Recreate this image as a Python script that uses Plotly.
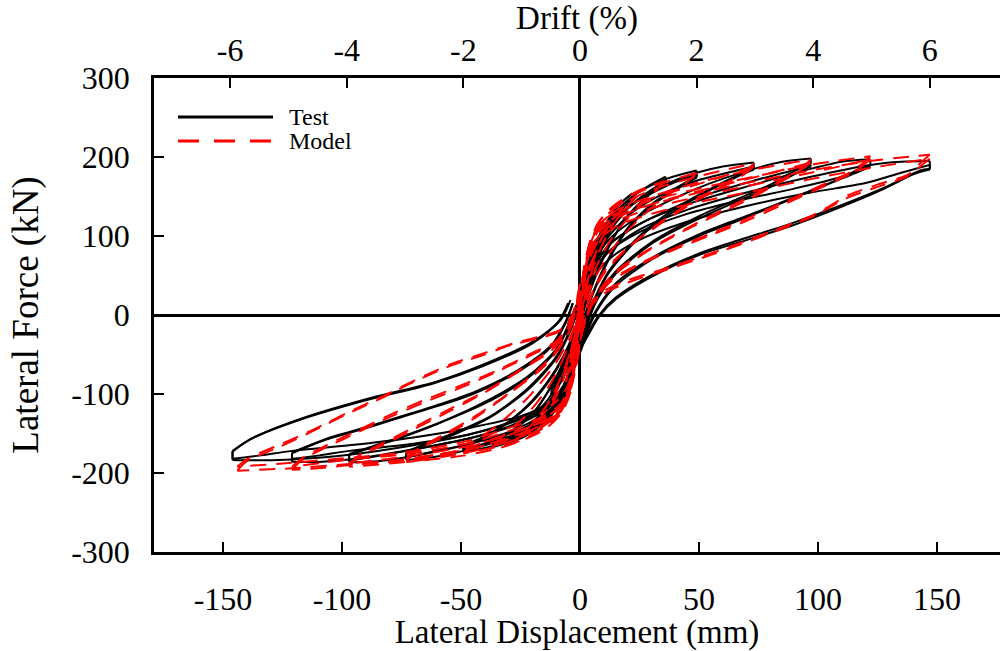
import plotly.graph_objects as go

# ---------------- data ----------------
# Each loop: [positive loading, positive unloading, negative loading, negative unloading]
# points are (lateral displacement mm, lateral force kN)

test_025 = [
    [(-1, -15), (1, 15), (3, 40), (6, 62)],
    [(6, 58), (3, 30), (0, -5), (-2, -25)],
    [(-2, -25), (-4, -45), (-6, -60)],
    [(-6, -56), (-3, -30), (0, 0), (1, 15)],
]
test_050 = [
    [(-1, -20), (1, 20), (4, 60), (8, 88), (12, 105)],
    [(12, 100), (8, 78), (4, 40), (0, -10), (-2, -30)],
    [(-2, -30), (-5, -65), (-8, -85), (-12, -100)],
    [(-12, -95), (-8, -72), (-4, -35), (0, 0), (1, 15)],
]
test_075 = [
    [(-2, -30), (0, 0), (3, 45), (7, 85), (12, 112), (18, 133)],
    [(18, 127), (13, 108), (8, 75), (3, 25), (0, -15), (-2, -35)],
    [(-2, -35), (-5, -75), (-10, -105), (-18, -128)],
    [(-18, -122), (-13, -105), (-8, -75), (-3, -30), (0, 0), (2, 30)],
]
test_100 = [
    [(0, 10), (3, 32), (7, 82), (11, 116), (17, 141), (22, 154)],
    [(22, 148), (17, 130), (10, 90), (4, 40), (0, -5), (-2, -20)],
    [(-2, -20), (-4, -62), (-8, -100), (-14, -130), (-24, -155)],
    [(-24, -148), (-18, -130), (-10, -95), (-4, -50), (0, -15), (2, 0)],
]
test_150 = [
    [(-1, 10), (2, 45), (7, 82), (11, 110), (17, 135), (22, 150), (28, 162), (36, 175)],
    [(36, 169), (30, 155), (20, 125), (10, 75), (4, 30), (0, -10)],
    [(0, -10), (-2, -60), (-6, -100), (-13, -130), (-24, -155), (-36.5, -167)],
    [(-36.5, -160), (-30, -150), (-20, -125), (-10, -80), (-4, -40), (0, -5)],
]
test_150b = [
    [(-1, 5), (2, 40), (7, 78), (12, 108), (18, 130), (26, 150), (36, 170)],
    [(36, 167), (29, 152), (19, 122), (10, 73), (4, 28), (0, -12)],
    [(0, -12), (-2, -62), (-6, -100), (-13, -127), (-24, -150), (-36.5, -163)],
    [(-36.5, -158), (-29, -147), (-19, -122), (-10, -78), (-4, -38), (0, -3)],
]
test_200 = [
    [(-2, 5), (1, 40), (5, 80), (11, 116), (22, 150), (36, 172), (49, 183)],
    [(49, 175), (40, 160), (30, 140), (20, 110), (10, 60), (5, 25), (1, -10)],
    [(1, -10), (-2, -55), (-6, -100), (-12, -125), (-24, -152), (-37, -166), (-49, -173)],
    [(-49, -167), (-42, -158), (-32, -140), (-20, -110), (-10, -70), (-4, -35), (0, 0)],
]
test_200b = [
    [(-2, 0), (1, 35), (5, 75), (11, 108), (22, 140), (36, 163), (49, 178)],
    [(49, 174), (40, 158), (30, 138), (20, 108), (10, 58), (5, 23), (1, -12)],
    [(1, -12), (-2, -57), (-6, -100), (-12, -122), (-24, -147), (-37, -160), (-49, -170)],
    [(-49, -165), (-41, -155), (-31, -137), (-20, -108), (-10, -68), (-4, -33), (0, 2)],
]
test_300 = [
    [(-2, 0), (0, 30), (4, 65), (10, 100), (22, 140), (36, 165), (49, 180), (60, 188), (73, 193)],
    [(73, 186), (67, 178), (55, 160), (40, 135), (25, 100), (12, 55), (6, 20), (2, -10)],
    [(2, -10), (-2, -50), (-6, -95), (-12, -122), (-25, -150), (-49, -172), (-60, -179), (-73, -183.5)],
    [(-73, -175), (-65, -165), (-52, -150), (-38, -130), (-22, -95), (-10, -55), (-4, -20), (-1, 5)],
]
test_300b = [
    [(-3, -5), (0, 25), (4, 60), (10, 92), (22, 130), (36, 155), (49, 170), (62, 180), (73, 188)],
    [(73, 184), (66, 175), (54, 157), (40, 132), (25, 98), (12, 53), (6, 18), (2, -12)],
    [(2, -12), (-2, -52), (-6, -95), (-12, -120), (-25, -145), (-49, -165), (-62, -173), (-73, -180)],
    [(-73, -173), (-64, -162), (-51, -147), (-37, -127), (-22, -93), (-10, -53), (-4, -18), (-1, 5)],
]
test_400 = [
    [(-3, -5), (0, 25), (5, 62), (12, 95), (25, 125), (49, 160), (73, 185), (85, 194), (97, 198)],
    [(97, 191), (90, 182), (80, 165), (67, 148), (50, 125), (30, 92), (15, 55), (7, 20), (3, -10)],
    [(3, -10), (-1, -45), (-5, -90), (-12, -118), (-25, -142), (-45, -162), (-73, -180), (-85, -185), (-97, -186.5)],
    [(-97, -177), (-88, -168), (-75, -155), (-60, -138), (-40, -112), (-22, -80), (-10, -45), (-5, -15), (-2, 10)],
]
test_400b = [
    [(-4, -10), (0, 20), (5, 55), (12, 88), (25, 115), (49, 148), (73, 170), (88, 182), (97, 190)],
    [(97, 188), (90, 178), (80, 162), (67, 145), (50, 122), (30, 90), (15, 52), (7, 18), (3, -12)],
    [(3, -12), (-1, -48), (-5, -90), (-12, -115), (-25, -137), (-45, -155), (-73, -172), (-88, -180), (-97, -184)],
    [(-97, -176), (-86, -165), (-73, -152), (-58, -135), (-40, -110), (-22, -78), (-10, -43), (-5, -13), (-2, 10)],
]
test_500 = [
    [(-4, -10), (0, 20), (5, 55), (12, 88), (25, 115), (45, 140), (73, 165), (97, 185), (110, 194), (122, 197)],
    [(122, 190), (118, 186), (109, 172), (95, 155), (81, 138), (67, 122), (50, 102), (30, 72), (15, 40), (8, 12), (4, -10)],
    [(4, -10), (0, -45), (-5, -85), (-12, -112), (-25, -135), (-45, -155), (-70, -170), (-97, -183), (-110, -186), (-121, -185.7)],
    [(-121, -175), (-107, -158), (-93, -146), (-79, -133), (-65, -120), (-45, -100), (-25, -70), (-12, -40), (-6, -10), (-3, 15)],
]
test_500b = [
    [(-5, -15), (-1, 15), (4, 48), (12, 80), (25, 105), (45, 128), (67, 145), (90, 160), (110, 175), (122, 188)],
    [(122, 188), (116, 180), (106, 168), (93, 152), (80, 136), (67, 120), (50, 100), (30, 70), (15, 37), (8, 10), (4, -14)],
    [(4, -14), (0, -48), (-6, -88), (-12, -112), (-25, -132), (-45, -150), (-70, -163), (-97, -172), (-110, -178), (-121, -182)],
    [(-121, -174), (-105, -155), (-91, -143), (-77, -130), (-63, -117), (-44, -97), (-25, -68), (-12, -38), (-6, -8), (-3, 15)],
]
test_600 = [
    [(-5, -15), (0, 15), (5, 50), (12, 80), (25, 108), (45, 133), (70, 155), (97, 175), (122, 190), (135, 194), (147, 195)],
    [(147, 185), (143, 183), (130, 164), (109, 138), (88, 115), (67, 95), (52, 80), (31, 52), (15, 22), (8, 0), (3, -25)],
    [(3, -25), (0, -45), (-5, -80), (-12, -108), (-25, -130), (-45, -150), (-70, -165), (-97, -177), (-121, -183), (-133, -184), (-146, -183.5)],
    [(-146, -173), (-139, -158), (-118, -133), (-90, -108), (-62, -87), (-41, -65), (-20, -36), (-8, -6), (-4, 19)],
]
test_600b = [
    [(-6, -25), (-1, 5), (4, 40), (12, 70), (25, 95), (45, 118), (70, 138), (97, 155), (120, 167), (135, 180), (147, 190)],
    [(147, 184), (140, 178), (128, 160), (109, 136), (88, 112), (67, 92), (50, 76), (31, 50), (15, 20), (8, -2), (3, -28)],
    [(3, -28), (-1, -50), (-6, -85), (-12, -110), (-25, -128), (-45, -142), (-70, -155), (-97, -165), (-121, -172), (-135, -178), (-146, -182)],
    [(-146, -172), (-137, -155), (-116, -130), (-88, -105), (-60, -84), (-40, -62), (-20, -34), (-9, -8), (-5, 15)],
]

model_025 = [
    [(-2, -40), (0, 0), (2, 45), (6, 75)],
    [(6, 75), (3, 45), (0, -5), (-2, -35)],
    [(-2, -35), (-4, -70), (-6, -85)],
    [(-6, -85), (-3, -50), (0, 0)],
]
model_050 = [
    [(-2, -40), (0, 0), (2, 50), (5, 88), (12, 112)],
    [(12, 112), (8, 90), (3, 40), (0, -10), (-2, -40)],
    [(-2, -40), (-4, -80), (-7, -100), (-12, -115)],
    [(-12, -115), (-8, -90), (-3, -40), (0, 10)],
]
model_075 = [
    [(-2, -45), (0, 0), (2, 55), (5, 95), (10, 120), (18, 135)],
    [(18, 135), (14, 122), (8, 90), (3, 40), (0, -10), (-2, -40)],
    [(-2, -40), (-4, -85), (-8, -115), (-18, -135)],
    [(-18, -135), (-14, -120), (-8, -85), (-3, -35), (0, 10)],
]
model_100 = [
    [(-3, -55), (-1, -10), (1, 45), (4, 90), (8, 118), (15, 138), (24, 150)],
    [(24, 150), (20, 138), (13, 110), (6, 65), (1, 10), (-1, -20)],
    [(-1, -20), (-3, -75), (-6, -110), (-12, -132), (-24, -150)],
    [(-24, -150), (-20, -138), (-12, -105), (-5, -55), (0, 0)],
]
model_150 = [
    [(-3, -55), (-1, -15), (1, 45), (4, 90), (8, 118), (15, 140), (25, 158), (36, 170)],
    [(36, 170), (32, 158), (24, 135), (14, 100), (6, 55), (1, 5), (-1, -25)],
    [(-1, -25), (-3, -78), (-6, -112), (-12, -135), (-24, -155), (-36, -165)],
    [(-36, -165), (-32, -152), (-22, -125), (-12, -85), (-5, -40), (0, 10)],
]
model_200 = [
    [(-3, -55), (-1, -15), (1, 45), (4, 90), (8, 118), (15, 140), (30, 162), (49, 180)],
    [(49, 180), (45, 168), (36, 150), (25, 122), (14, 85), (6, 45), (1, 0), (-1, -25)],
    [(-1, -25), (-3, -75), (-6, -110), (-12, -135), (-24, -158), (-49, -175)],
    [(-49, -175), (-45, -162), (-35, -140), (-22, -105), (-10, -60), (-3, -20), (0, 15)],
]
model_300 = [
    [(-4, -60), (-2, -25), (1, 40), (4, 88), (8, 115), (15, 136), (30, 158), (49, 175), (73, 192)],
    [(73, 192), (69, 180), (60, 165), (48, 145), (35, 120), (22, 90), (10, 55), (4, 20), (0, -20)],
    [(0, -20), (-2, -60), (-4, -98), (-8, -125), (-15, -145), (-30, -165), (-49, -178), (-73, -186)],
    [(-73, -186), (-69, -173), (-58, -155), (-45, -132), (-30, -100), (-15, -65), (-6, -30), (-1, 10)],
]
model_300b = [
    [(-4, -55), (-2, -20), (1, 36), (4, 80), (8, 107), (15, 127), (30, 148), (49, 165), (73, 188)],
    [(73, 188), (68, 176), (59, 161), (47, 141), (34, 116), (21, 87), (10, 52), (4, 18), (0, -20)],
    [(0, -20), (-2, -58), (-4, -94), (-8, -120), (-15, -138), (-30, -157), (-49, -171), (-73, -182)],
    [(-73, -182), (-68, -169), (-57, -151), (-44, -128), (-29, -97), (-15, -62), (-6, -28), (-1, 10)],
]
model_400 = [
    [(-4, -60), (-2, -25), (1, 35), (4, 85), (8, 112), (15, 132), (30, 150), (50, 168), (73, 184), (97, 197)],
    [(97, 197), (93, 186), (85, 172), (73, 152), (60, 133), (45, 110), (30, 85), (15, 55), (6, 22), (1, -20)],
    [(1, -20), (-1, -55), (-4, -95), (-8, -122), (-15, -140), (-30, -160), (-49, -175), (-73, -186), (-97, -192)],
    [(-97, -192), (-93, -180), (-83, -165), (-70, -145), (-55, -122), (-40, -98), (-25, -70), (-12, -45), (-4, -15), (0, 25)],
]
model_400b = [
    [(-4, -55), (-2, -20), (1, 32), (4, 78), (8, 104), (15, 122), (30, 140), (50, 157), (73, 174), (97, 193)],
    [(97, 193), (92, 182), (84, 168), (72, 148), (59, 129), (44, 107), (29, 82), (15, 52), (6, 20), (1, -20)],
    [(1, -20), (-1, -55), (-4, -92), (-8, -117), (-15, -133), (-30, -152), (-49, -167), (-73, -179), (-97, -188)],
    [(-97, -188), (-92, -176), (-82, -161), (-69, -141), (-54, -118), (-39, -95), (-24, -67), (-12, -42), (-4, -12), (0, 25)],
]
model_500 = [
    [(-4, -60), (-2, -25), (1, 30), (4, 82), (8, 110), (15, 128), (30, 145), (50, 160), (73, 175), (97, 190), (122, 201)],
    [(122, 201), (118, 190), (113, 180), (100, 162), (85, 142), (70, 122), (55, 103), (40, 85), (25, 65), (12, 42), (5, 15), (1, -20)],
    [(1, -20), (-1, -50), (-4, -92), (-8, -120), (-15, -138), (-30, -155), (-48, -172), (-73, -184), (-97, -190), (-110, -194), (-121, -196)],
    [(-121, -196), (-117, -184), (-107, -168), (-93, -148), (-79, -128), (-65, -110), (-50, -92), (-35, -72), (-20, -50), (-10, -35), (-4, -10), (0, 30)],
]
model_500b = [
    [(-4, -55), (-2, -20), (1, 28), (4, 75), (8, 100), (15, 118), (30, 135), (50, 150), (73, 165), (97, 180), (122, 197)],
    [(122, 197), (118, 187), (112, 176), (99, 158), (84, 138), (69, 118), (54, 100), (39, 82), (24, 62), (12, 40), (5, 13), (1, -20)],
    [(1, -20), (-1, -52), (-4, -90), (-8, -115), (-15, -130), (-30, -147), (-48, -163), (-73, -176), (-97, -183), (-121, -192)],
    [(-121, -192), (-116, -180), (-106, -164), (-92, -144), (-78, -124), (-64, -106), (-49, -88), (-34, -69), (-20, -48), (-10, -33), (-4, -8), (0, 30)],
]
model_600 = [
    [(-4, -60), (-2, -25), (1, 30), (4, 80), (8, 108), (15, 125), (30, 140), (50, 155), (75, 170), (97, 183), (122, 195), (147, 203)],
    [(147, 203), (143, 192), (138, 178), (125, 165), (113, 152), (99, 128), (84, 110), (70, 94), (52, 75), (35, 58), (20, 44), (10, 30), (4, 10), (1, -20)],
    [(1, -20), (-1, -50), (-4, -90), (-8, -118), (-15, -135), (-30, -150), (-48, -169), (-60, -177), (-77, -184), (-94, -188), (-121, -194), (-144, -197)],
    [(-144, -197), (-140, -185), (-127, -168), (-113, -148), (-99, -127), (-84, -106), (-70, -85), (-55, -65), (-41, -51), (-29, -38), (-18, -30), (-8, -20), (-3, 0), (0, 40)],
]
model_600b = [
    [(-4, -55), (-2, -20), (1, 28), (4, 70), (8, 95), (15, 112), (30, 128), (50, 143), (75, 158), (97, 172), (122, 186), (147, 198)],
    [(147, 198), (143, 188), (137, 175), (124, 161), (112, 148), (98, 125), (83, 107), (69, 91), (51, 72), (34, 55), (20, 41), (10, 27), (4, 8), (1, -20)],
    [(1, -20), (-1, -52), (-4, -88), (-8, -112), (-15, -128), (-30, -143), (-48, -160), (-77, -175), (-94, -180), (-121, -187), (-144, -192)],
    [(-144, -192), (-139, -181), (-126, -164), (-112, -145), (-98, -124), (-83, -103), (-69, -82), (-54, -62), (-40, -48), (-28, -36), (-18, -28), (-8, -18), (-3, 2), (0, 40)],
]

test_loops = [test_025, test_050, test_075, test_100, test_150, test_150b, test_200, test_200b,
              test_300, test_300b, test_400, test_400b, test_500, test_500b, test_600, test_600b]
model_loops = [model_025, model_050, model_075, model_100, model_150, model_200,
               model_300, model_300b, model_400, model_400b, model_500, model_500b,
               model_600, model_600b]

x_ticks = [-150, -100, -50, 0, 50, 100, 150]
x_tick_text = ["-150", "-100", "-50", "0", "50", "100", "150"]
y_ticks = [-300, -200, -100, 0, 100, 200, 300]
y_tick_text = ["-300", "-200", "-100", "0", "100", "200", "300"]
drift_ticks = [-6, -4, -2, 0, 2, 4, 6]
drift_tick_text = ["-6", "-4", "-2", "0", "2", "4", "6"]
storey_height_mm = 24.5   # mm per 1 % drift
x_range = [-179, 176.5]
y_range = [-300, 300]


def build_path(loops):
    xs, ys = [], []

    def add(seg):
        for px, py in seg:
            xs.append(px)
            ys.append(py)
        xs.append(None)
        ys.append(None)

    for pl, pu, nl, nu in loops:
        add(pl)
        add([pl[-1], pu[0]])
        add(pu + nl[1:] if pu[-1] == nl[0] else pu + nl)
        add([nl[-1], nu[0]])
        add(nu)
    return xs, ys


tx, ty = build_path(test_loops)
mx, my = build_path(model_loops)

FONT = "Liberation Serif, Times New Roman, serif"

fig = go.Figure()
fig.add_trace(go.Scatter(x=tx, y=ty, mode="lines", name="Test",
                         line=dict(color="black", width=2, shape="spline", smoothing=0.8),
                         connectgaps=False, hoverinfo="skip", showlegend=False))
fig.add_trace(go.Scatter(x=mx, y=my, mode="lines", name="Model",
                         line=dict(color="red", width=2, dash="16px,10px", shape="spline", smoothing=0.8),
                         connectgaps=False, hoverinfo="skip", showlegend=False))
# invisible trace so that the drift axis is created
fig.add_trace(go.Scatter(x=[0], y=[0], xaxis="x2", yaxis="y", mode="markers",
                         marker=dict(opacity=0), hoverinfo="skip", showlegend=False))

axis_common = dict(ticks="inside", ticklen=10, tickwidth=2, tickcolor="black",
                   showline=True, linecolor="black", linewidth=2.5, showgrid=False,
                   automargin=False,
                   tickfont=dict(family=FONT, size=32, color="black"))

fig.update_layout(
    width=1000, height=651,
    margin=dict(l=154, r=0, t=78, b=99),
    paper_bgcolor="white", plot_bgcolor="white",
    font=dict(family=FONT, color="black"),
    xaxis=dict(range=x_range, tickmode="array", tickvals=x_ticks, ticktext=x_tick_text,
               zeroline=True, zerolinecolor="black", zerolinewidth=2.5,
               title=dict(text="Lateral Displacement (mm)", font=dict(family=FONT, size=33), standoff=0),
               ticklabelstandoff=17, **axis_common),
    xaxis2=dict(range=[x_range[0] / storey_height_mm, x_range[1] / storey_height_mm],
                overlaying="x", side="top", anchor="y", tickmode="array",
                tickvals=drift_ticks, ticktext=drift_tick_text, zeroline=False,
                title=dict(text="Drift (%)", font=dict(family=FONT, size=33), standoff=0),
                ticklabelstandoff=1, **axis_common),
    yaxis=dict(range=y_range, tickmode="array", tickvals=y_ticks, ticktext=y_tick_text,
               zeroline=True, zerolinecolor="black", zerolinewidth=2.5,
               title=dict(text="Lateral Force (kN)", font=dict(family=FONT, size=37), standoff=22),
               ticklabelstandoff=15, **axis_common),
)

# legend drawn by hand (long sample lines, as in the reference)
leg_x0 = (178 - 154) / 846
leg_x1 = (273 - 154) / 846
leg_tx = (287 - 154) / 846
leg_y_test = (552 - 117) / 474
leg_y_model = (552 - 141) / 474
fig.add_shape(type="line", xref="paper", yref="paper", x0=leg_x0, x1=leg_x1,
              y0=leg_y_test, y1=leg_y_test, line=dict(color="black", width=3))
fig.add_shape(type="line", xref="paper", yref="paper", x0=leg_x0, x1=leg_x1,
              y0=leg_y_model, y1=leg_y_model, line=dict(color="red", width=3, dash="21px,15px"))
fig.add_annotation(xref="paper", yref="paper", x=leg_tx, y=leg_y_test, text="Test",
                   showarrow=False, xanchor="left", yanchor="middle",
                   font=dict(family=FONT, size=24, color="black"))
fig.add_annotation(xref="paper", yref="paper", x=leg_tx, y=leg_y_model, text="Model",
                   showarrow=False, xanchor="left", yanchor="middle",
                   font=dict(family=FONT, size=24, color="black"))

# remove the browser's default page margin so the figure sits at the window's corner
fig.write_html("out.html", config={"displayModeBar": False},
               post_script="document.body.style.margin='0';")
